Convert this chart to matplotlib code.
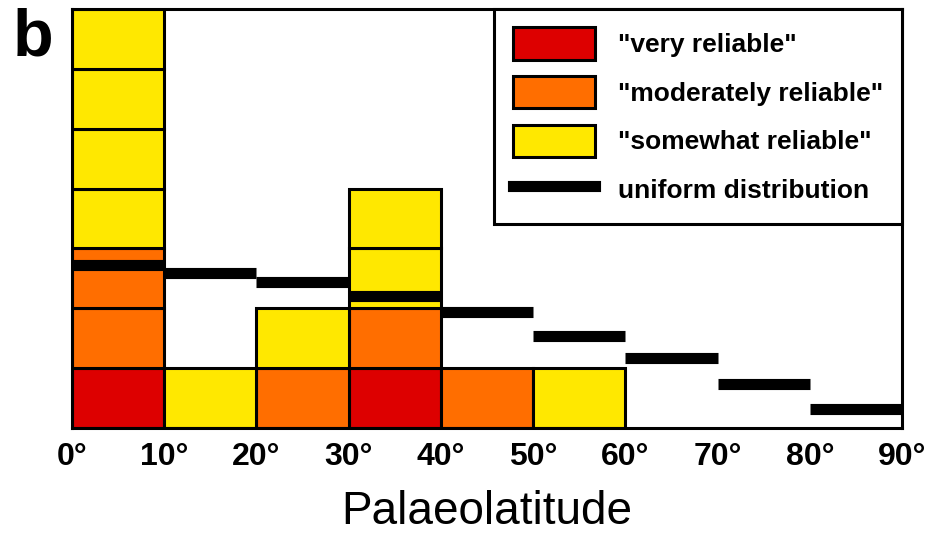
import numpy as np
import matplotlib
matplotlib.use("Agg")
import matplotlib.pyplot as plt
from matplotlib.patches import Patch
from matplotlib.lines import Line2D

plt.rcParams['font.family'] = ['Liberation Sans', 'DejaVu Sans']

# bin left edges (degrees palaeolatitude)
bins = [0, 10, 20, 30, 40, 50, 60, 70, 80]
# number of sites per bin, by reliability
very = [1, 0, 0, 1, 0, 0, 0, 0, 0]
moderately = [2, 0, 1, 1, 1, 0, 0, 0, 0]
somewhat = [4, 1, 1, 2, 0, 1, 0, 0, 0]
# expected counts for a uniform distribution on the sphere
uniform = [2.73, 2.59, 2.44, 2.21, 1.93, 1.54, 1.17, 0.73, 0.31]

tick_vals = [0, 10, 20, 30, 40, 50, 60, 70, 80, 90]
tick_labels = ["0°", "10°", "20°", "30°", "40°", "50°", "60°", "70°", "80°", "90°"]

labels = ['"very reliable"', '"moderately reliable"', '"somewhat reliable"', 'uniform distribution']
colors = ['#DD0000', '#FF6E00', '#FFE800']

fig = plt.figure(figsize=(9.28, 5.35), dpi=100)
ax = fig.add_axes([72/928, 107/535, 830/928, 419/535])

# stacked unit boxes
bottoms = np.zeros(len(bins))
for counts, col in zip([very, moderately, somewhat], colors):
    for i, (x, n) in enumerate(zip(bins, counts)):
        for k in range(n):
            ax.bar(x, 1, width=10, bottom=bottoms[i], align='edge',
                   color=col, edgecolor='black', linewidth=2.2, zorder=2)
            bottoms[i] += 1

ax.hlines(uniform, bins, np.array(bins) + 10, colors='black', linewidth=8, zorder=3)

ax.set_xlim(0, 90)
ax.set_ylim(0, 7)
ax.set_yticks([])
ax.set_xticks(tick_vals)
ax.set_xticklabels(tick_labels, fontsize=23, fontweight='bold')
ax.tick_params(axis='x', length=0, pad=10)
for s in ax.spines.values():
    s.set_linewidth(2.2)

ax.set_xlabel("Palaeolatitude", fontsize=33, labelpad=13)

handles = [Patch(facecolor=c, edgecolor='black', linewidth=2.2) for c in colors]
handles.append(Line2D([], [], color='black', linewidth=8))
leg = ax.legend(handles, labels, loc='upper right', bbox_to_anchor=(1, 1),
                borderaxespad=0, fancybox=False, framealpha=1,
                prop={'size': 19, 'weight': 'bold'},
                handlelength=3.1, handleheight=1.5, labelspacing=0.62,
                handletextpad=0.9, borderpad=0.7)
leg.get_frame().set_edgecolor('black')
leg.get_frame().set_linewidth(2.2)
leg.set_zorder(5)

fig.text(13/928, 1 - 56/535, "b", fontsize=48, fontweight='bold', va='baseline')

fig.savefig("out.png", dpi=100)
